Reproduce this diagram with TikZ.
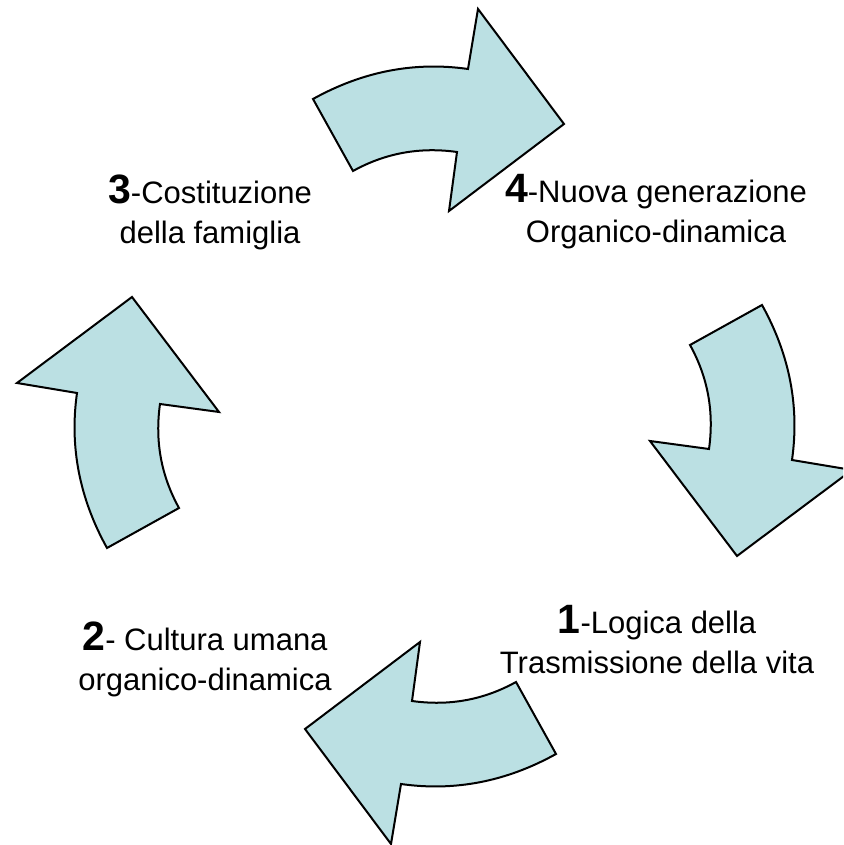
\documentclass[tikz,border=0pt]{standalone}
\usepackage{fontspec}
\setmainfont{Liberation Sans}
\usepackage{tikz}
\usetikzlibrary{positioning}
\definecolor{cycFill}{HTML}{BBE0E3}
\tikzset{
  every node/.style={font=\fontsize{31}{40}\selectfont},
  cycArrow/.style={draw=black, fill=cycFill, line width=2pt},
  lbl/.style={align=center, inner sep=0pt},
}
\newcommand{\stepnum}[1]{{\fontsize{41}{40}\selectfont\bfseries #1}}

\begin{document}
\begin{tikzpicture}[x=1pt, y=1pt]
  \useasboundingbox (0,0) rectangle (843,845);
  \clip (0,0) rectangle (843,845);
  % the four curved arrows, one shape turned about the middle
  \foreach \ang in {0,-90,-180,-270}
    \draw[cycArrow, shift={(434.5,418.5)}, rotate=\ang]
      (-121.5,327.5) .. controls (-71.8,355.1) and (-20.1,365.1) .. (33.5,357.5)
      -- (43.5,417.5) -- (129.5,302.5) -- (14.5,215.5) -- (22.5,274.5)
      .. controls (-14.6,279.7) and (-49.2,273.4) .. (-81.5,255.5) -- cycle;
  % labels
  \node[lbl] (famiglia) at (210,633) {\stepnum{3}-Costituzione\\della famiglia};
  \node[lbl] (nuova) at (656,633) {\stepnum{4}-Nuova generazione\\Organico-dinamica};
  \node[lbl] (logica) at (657,205) {\stepnum{1}-Logica della\\Trasmissione della vita};
  \node[lbl] (cultura) at (205,186) {\stepnum{2}- Cultura umana\\organico-dinamica};
\end{tikzpicture}
\end{document}
